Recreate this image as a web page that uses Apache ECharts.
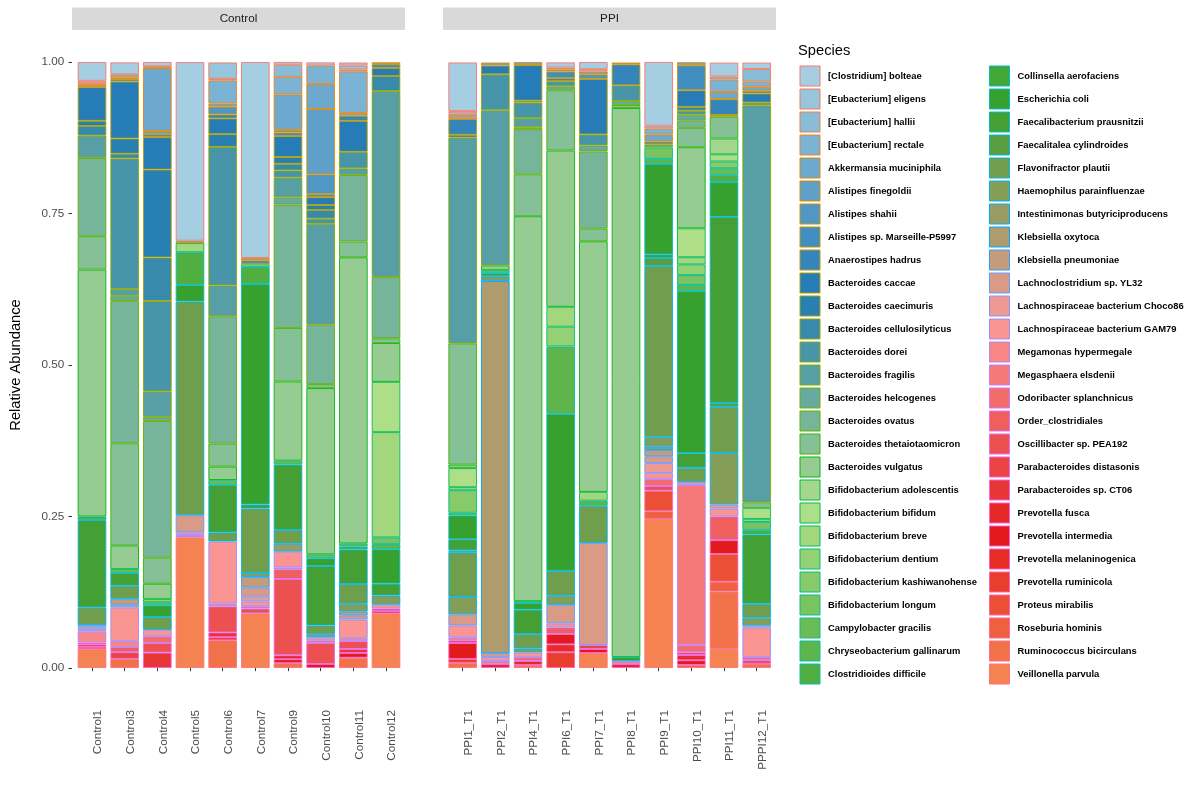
<!DOCTYPE html>
<html>
<head>
<meta charset="utf-8">
<script src="https://cdn.jsdelivr.net/npm/echarts@6/dist/echarts.min.js"></script>
<style>html,body{margin:0;padding:0;background:#fff;}#chart{width:1200px;height:792px;}</style>
</head>
<body>
<div id="chart"></div>
<script>
const species = [
  "[Clostridium] bolteae","[Eubacterium] eligens","[Eubacterium] hallii","[Eubacterium] rectale",
  "Akkermansia muciniphila","Alistipes finegoldii","Alistipes shahii","Alistipes sp. Marseille-P5997",
  "Anaerostipes hadrus","Bacteroides caccae","Bacteroides caecimuris","Bacteroides cellulosilyticus",
  "Bacteroides dorei","Bacteroides fragilis","Bacteroides helcogenes","Bacteroides ovatus",
  "Bacteroides thetaiotaomicron","Bacteroides vulgatus","Bifidobacterium adolescentis","Bifidobacterium bifidum",
  "Bifidobacterium breve","Bifidobacterium dentium","Bifidobacterium kashiwanohense","Bifidobacterium longum",
  "Campylobacter gracilis","Chryseobacterium gallinarum","Clostridioides difficile",
  "Collinsella aerofaciens","Escherichia coli","Faecalibacterium prausnitzii","Faecalitalea cylindroides",
  "Flavonifractor plautii","Haemophilus parainfluenzae","Intestinimonas butyriciproducens","Klebsiella oxytoca",
  "Klebsiella pneumoniae","Lachnoclostridium sp. YL32","Lachnospiraceae bacterium Choco86","Lachnospiraceae bacterium GAM79",
  "Megamonas hypermegale","Megasphaera elsdenii","Odoribacter splanchnicus","Order_clostridiales",
  "Oscillibacter sp. PEA192","Parabacteroides distasonis","Parabacteroides sp. CT06","Prevotella fusca",
  "Prevotella intermedia","Prevotella melaninogenica","Prevotella ruminicola","Proteus mirabilis",
  "Roseburia hominis","Ruminococcus bicirculans","Veillonella parvula"
];

const controlSamples = ["Control1","Control3","Control4","Control5","Control6","Control7","Control9","Control10","Control11","Control12"];
const ppiSamples = ["PPI1_T1","PPI2_T1","PPI4_T1","PPI6_T1","PPI7_T1","PPI8_T1","PPI9_T1","PPI10_T1","PPI11_T1","PPPI12_T1"];
const yTicks = [0, 0.25, 0.5, 0.75, 1];

// relative abundance per sample, in species order (index 0 .. 53)
const Control1 = [0.031,0.004,0.003,0,0.0035,0,0,0,0,0.0555,
 0.0085,0.016,0,0.037,0,0.129,0.055,0.4075,0,0,
 0,0,0,0,0,0,0.006,0,0,0.144,
 0,0.029,0,0,0,0,0.004,0.004,0.003,0.018,
 0,0,0,0,0.003,0,0.004,0,0.004,0,
 0,0,0,0.031];
const Control3 = [0.0196,0,0,0.005,0.003,0,0,0.004,0,0.094,
 0.025,0.008,0.2155,0.011,0.0085,0.235,0.1685,0.039,0,0,
 0,0,0,0,0.0065,0,0,0,0,0.021,
 0,0.0215,0,0,0,0.0098,0.0046,0,0.0555,0.0098,
 0,0,0.0085,0,0.011,0,0,0,0,0,
 0,0,0.015,0];
const Control4 = [0.007,0,0,0.003,0.104,0.005,0,0.005,0,0.0535,
 0.145,0.072,0.149,0.0425,0.0065,0.2255,0.043,0.0255,0.005,0,
 0,0,0,0,0.005,0,0,0,0.0196,0,
 0,0.021,0,0,0,0,0,0,0.0105,0,
 0,0.011,0,0.016,0,0.0254,0,0,0,0,
 0,0,0,0];
const Control5 = [0.2946,0,0,0,0.004,0,0,0,0,0,
 0,0,0,0,0,0,0,0,0,0,
 0.015,0,0,0,0,0,0.054,0,0.0275,0,
 0,0.3526,0,0,0,0,0.028,0,0.0046,0,
 0.004,0,0,0,0,0,0,0,0,0,
 0,0,0,0.2155];
const Control6 = [0,0.0268,0.003,0.038,0.005,0,0.013,0,0.0065,0.026,
 0.021,0,0.2286,0.051,0,0.21,0.038,0.022,0,0,
 0,0,0,0,0.0085,0,0,0,0,0.078,
 0,0.015,0,0,0,0,0,0,0.1025,0.0046,
 0,0,0,0.043,0,0.008,0,0,0.005,0,
 0,0,0.0457,0];
const Control7 = [0.3233,0,0,0,0.004,0,0,0.0065,0,0,
 0,0,0,0,0,0,0,0,0,0,
 0,0.0046,0,0,0,0,0.028,0,0.3638,0.0065,
 0,0.1065,0.0065,0,0,0.0176,0.015,0.0078,0.0078,0,
 0.004,0,0,0.008,0,0,0,0,0,0,
 0,0,0,0.0901];
const Control9 = [0.0046,0,0.02,0.029,0.0588,0.004,0,0.006,0,0.0346,
 0.011,0.011,0.0118,0.0327,0.0118,0.2038,0.0882,0.1306,0,0,
 0,0,0,0,0.0065,0,0,0,0,0.1078,
 0,0.0229,0,0.013,0,0,0,0,0.026,0.003,
 0,0,0.016,0.126,0,0,0.0065,0.0065,0,0,
 0,0,0.008,0];
const Control10 = [0.005,0,0,0.0307,0.0412,0.1078,0.0327,0.005,0,0.013,
 0.008,0.0144,0.0085,0.1666,0,0.098,0.0065,0.2743,0,0,
 0,0,0,0,0.0065,0,0,0,0.013,0.098,
 0,0.0144,0,0.005,0,0,0,0,0.005,0,
 0.0046,0,0,0.0346,0,0,0,0.0065,0,0,
 0,0,0,0];
const Control11 = [0.005,0.0065,0.003,0.0686,0.0046,0,0,0,0.0085,0.051,
 0,0,0.0274,0.011,0,0.1097,0.0261,0.4722,0,0,
 0,0,0,0,0.005,0,0.005,0,0,0.0568,
 0,0.0327,0.013,0,0,0.0065,0.0065,0,0.0307,0.005,
 0,0,0,0.013,0,0.0065,0,0.0078,0,0,
 0,0,0.017,0];
const Control12 = [0,0,0,0,0.003,0,0,0.0065,0,0.013,
 0,0.0248,0,0.307,0,0.1012,0.0078,0.064,0,0.083,
 0.1737,0,0,0.011,0,0.0085,0,0,0.0568,0.0196,
 0,0,0.015,0,0,0,0,0,0.0065,0,
 0,0,0,0,0.004,0,0,0.004,0,0,
 0,0,0,0.0901];
const PPI1_T1 = [0.0803,0.004,0.004,0.005,0,0,0,0,0.026,0,
 0.0046,0,0,0.3396,0,0,0.2,0.0059,0,0.0314,
 0.005,0,0.0372,0,0.0046,0,0,0,0.0392,0.0183,
 0.003,0.0738,0.0287,0,0,0,0.0183,0,0.0196,0,
 0.005,0,0,0,0.0046,0,0,0.0261,0,0.0065,
 0,0,0.0085,0];
const PPI2_T1 = [0,0,0,0,0.005,0,0,0,0,0.0144,
 0,0,0.0594,0.256,0,0,0,0.0078,0,0,
 0,0,0,0,0.005,0,0,0,0.005,0,
 0,0,0.008,0,0.614,0,0.0065,0,0.0065,0,
 0.005,0,0,0,0,0,0.0065,0,0,0,
 0,0,0,0];
const PPI4_T1 = [0,0,0,0,0.005,0,0,0,0,0.0588,
 0.003,0,0.026,0.015,0.003,0.0745,0.0692,0.6352,0,0,
 0,0,0,0,0.003,0,0,0,0.011,0.0405,
 0,0.0235,0.0065,0,0,0,0,0,0.0078,0,
 0,0.0065,0,0,0,0,0.0065,0,0,0,
 0,0,0.005,0];
const PPI6_T1 = [0.0085,0,0.003,0,0.0035,0,0,0.011,0.005,0,
 0,0,0.0085,0,0.0065,0,0.0993,0.258,0,0,
 0.0327,0.0327,0,0,0,0.111,0,0,0.2593,0,
 0,0.0411,0.015,0,0,0,0.0307,0,0.0065,0,
 0,0,0.011,0,0,0,0,0.017,0.013,0.026,
 0,0,0,0];
const PPI7_T1 = [0.0118,0.004,0,0,0.0045,0,0.0078,0,0,0.0914,
 0,0,0.0183,0,0.0098,0.1274,0.0209,0.4135,0,0,
 0.0144,0,0,0,0,0.0085,0,0,0,0,
 0,0.0614,0,0,0,0,0.1685,0,0,0,
 0,0,0,0,0.0065,0,0,0.0065,0,0,
 0,0,0,0.0248];
const PPI8_T1 = [0,0,0,0,0.003,0,0,0,0.0346,0,
 0,0,0.026,0,0.0065,0,0.005,0.906,0,0,
 0,0,0,0,0,0,0,0,0.0065,0,
 0,0,0,0,0,0,0,0,0,0,
 0.005,0,0,0,0,0,0.0065,0,0,0,
 0,0,0,0];
const PPI9_T1 = [0.1052,0.0046,0,0.0098,0.0118,0,0,0,0.0046,0,
 0,0,0,0,0.005,0,0,0,0,0,
 0,0,0,0.019,0,0.0085,0,0,0.149,0.006,
 0.013,0.2828,0.015,0.006,0,0.0105,0.011,0.0163,0.0098,0,
 0,0.0118,0,0.0078,0,0,0,0,0,0,
 0.034,0.013,0,0.2456];
const PPI10_T1 = [0,0,0,0,0.005,0,0,0.0412,0,0.0274,
 0,0.0065,0.0065,0,0.0098,0.0118,0.032,0.1339,0,0.0477,
 0.0118,0.0176,0,0.0163,0,0.0098,0,0,0.2678,0.0242,
 0,0.0235,0,0,0,0,0,0,0.0046,0,
 0.2645,0.0118,0,0,0.0046,0,0.0085,0.0078,0,0,
 0,0.005,0,0];
const PPI11_T1 = [0.0229,0,0.005,0.0206,0.0118,0,0,0,0.0261,0,
 0.003,0,0,0,0,0,0.0359,0,0.0261,0.0118,
 0,0,0.011,0,0.011,0,0.0118,0,0.0575,0.307,
 0.0065,0.0764,0.0849,0,0,0,0,0.0065,0.013,0,
 0,0,0.0392,0,0,0,0,0.0229,0,0,
 0.0457,0.0163,0.0947,0.0314];
const PPPI12_T1 = [0.0105,0,0.0209,0.0085,0.0065,0,0,0.0046,0,0.015,
 0,0,0.0046,0.6551,0,0,0.009,0,0,0.0183,
 0,0.005,0,0.013,0,0,0.0078,0,0,0.1143,
 0,0.0229,0.013,0,0,0,0,0.003,0.049,0,
 0,0.005,0,0.0065,0,0,0,0,0,0,
 0,0,0.0065,0];

const controlData = [Control1,Control3,Control4,Control5,Control6,Control7,Control9,Control10,Control11,Control12];
const ppiData = [PPI1_T1,PPI2_T1,PPI4_T1,PPI6_T1,PPI7_T1,PPI8_T1,PPI9_T1,PPI10_T1,PPI11_T1,PPPI12_T1];

// ---- styles ----
const FONT = "Liberation Sans, Arial, sans-serif";
const anchors = ['#A6CEE3','#1F78B4','#B2DF8A','#33A02C','#FB9A99','#E31A1C','#FDBF6F'];
function hexToRgb(h){return [parseInt(h.substr(1,2),16),parseInt(h.substr(3,2),16),parseInt(h.substr(5,2),16)];}
function toHex(r,g,b){return '#'+[r,g,b].map(v=>Math.round(Math.max(0,Math.min(255,v))).toString(16).padStart(2,'0')).join('');}
function fillColor(i){
  const step = 9.4;
  const k = Math.min(Math.floor(i/step), anchors.length-2);
  const t = (i - k*step)/step;
  const a = hexToRgb(anchors[k]), b = hexToRgb(anchors[k+1]);
  return toHex(a[0]+(b[0]-a[0])*t, a[1]+(b[1]-a[1])*t, a[2]+(b[2]-a[2])*t);
}
function hcl(h,c,l){
  const hr = h*Math.PI/180;
  const U = c*Math.cos(hr), V = c*Math.sin(hr);
  const Xn=95.047, Yn=100, Zn=108.883;
  const den = Xn+15*Yn+3*Zn;
  const un = 4*Xn/den, vn = 9*Yn/den;
  const Y = Yn*(l>7.999592 ? Math.pow((l+16)/116,3) : l/903.3);
  const u = U/(13*l)+un, v = V/(13*l)+vn;
  const X = 9*Y*u/(4*v);
  const Z = -X/3 - 5*Y + 3*Y/v;
  const lin = [
    ( 3.240479*X - 1.537150*Y - 0.498535*Z)/100,
    (-0.969256*X + 1.875992*Y + 0.041556*Z)/100,
    ( 0.055648*X - 0.204043*Y + 1.057311*Z)/100
  ];
  const g = lin.map(x => { x = Math.max(0, Math.min(1, x)); return 255*(x<=0.0031308 ? 12.92*x : 1.055*Math.pow(x,1/2.4)-0.055); });
  return toHex(g[0],g[1],g[2]);
}
const n = species.length;
const fills = species.map((s,i)=>fillColor(i));
const borders = species.map((s,i)=>hcl(15+360*i/n, 100, 65));

const series = [];
[controlData, ppiData].forEach((group, g) => {
  for (let i = n-1; i >= 0; i--) {
    series.push({
      type: 'bar',
      name: species[i],
      xAxisIndex: g, yAxisIndex: g,
      stack: 'panel'+g,
      barWidth: 28.6,
      data: group.map(s => s[i] ? s[i] : null),
      itemStyle: { color: fills[i], borderColor: borders[i], borderWidth: 0.9 },
      emphasis: { disabled: true },
      silent: true
    });
  }
});

const legendCommon = {
  orient: 'vertical', top: 65.5, itemWidth: 20, itemHeight: 20, itemGap: 2, padding: 0,
  icon: 'rect', selectedMode: false,
  itemStyle: { borderWidth: 1 },
  textStyle: { fontSize: 9.4, fontWeight: 'bold', color: '#000', fontFamily: FONT, padding: [0,0,0,3] }
};

const xAxisCommon = {
  type: 'category', offset: 30,
  axisLine: { show: false },
  axisTick: { show: true, alignWithLabel: true, length: 3.2, lineStyle: { color: '#333333' } },
  axisLabel: { rotate: 90, margin: 12, color: '#4D4D4D', fontSize: 11.7, fontFamily: FONT, verticalAlign: 'top', interval: 0 },
  splitLine: { show: false }
};

const option = {
  animation: false,
  backgroundColor: '#ffffff',
  grid: [
    { left: 75.67, top: 62, width: 326.67, height: 606 },
    { left: 446.35, top: 62, width: 326.67, height: 606 }
  ],
  xAxis: [
    Object.assign({ gridIndex: 0, data: controlSamples }, xAxisCommon),
    Object.assign({ gridIndex: 1, data: ppiSamples }, xAxisCommon)
  ],
  yAxis: [
    { type: 'value', gridIndex: 0, min: yTicks[0], max: yTicks[yTicks.length-1], interval: 0.25, offset: 3.67,
      axisLine: { show: false },
      axisTick: { show: true, length: 3.5, lineStyle: { color: '#333333' } },
      axisLabel: { margin: 7.7, color: '#4D4D4D', fontSize: 11.7, fontFamily: FONT, formatter: v => v.toFixed(2) },
      splitLine: { show: false } },
    { type: 'value', gridIndex: 1, min: yTicks[0], max: yTicks[yTicks.length-1], interval: 0.25, show: false,
      splitLine: { show: false } }
  ],
  legend: [
    Object.assign({ left: 799.5, data: species.slice(0, 27) }, legendCommon),
    Object.assign({ left: 989, data: species.slice(27) }, legendCommon)
  ],
  graphic: [
    { type: 'rect', shape: { x: 72, y: 7.5, width: 333, height: 22.5 }, style: { fill: '#D9D9D9' }, silent: true },
    { type: 'rect', shape: { x: 443, y: 7.5, width: 333, height: 22.5 }, style: { fill: '#D9D9D9' }, silent: true },
    { type: 'text', x: 238.5, y: 19, style: { text: 'Control', fill: '#1A1A1A', fontSize: 11.7, fontFamily: FONT, textAlign: 'center', textVerticalAlign: 'middle' }, silent: true },
    { type: 'text', x: 609.5, y: 19, style: { text: 'PPI', fill: '#1A1A1A', fontSize: 11.7, fontFamily: FONT, textAlign: 'center', textVerticalAlign: 'middle' }, silent: true },
    { type: 'text', x: 15.5, y: 365, rotation: Math.PI/2, style: { text: 'Relative Abundance', fill: '#000', fontSize: 14.7, fontFamily: FONT, textAlign: 'center', textVerticalAlign: 'middle' }, silent: true },
    { type: 'text', x: 798, y: 50.5, style: { text: 'Species', fill: '#000', fontSize: 14.7, fontFamily: FONT, textAlign: 'left', textVerticalAlign: 'middle' }, silent: true }
  ],
  series: series
};

const chart = echarts.init(document.getElementById('chart'), null, { renderer: 'canvas' });
chart.setOption(option);
</script>
</body>
</html>
